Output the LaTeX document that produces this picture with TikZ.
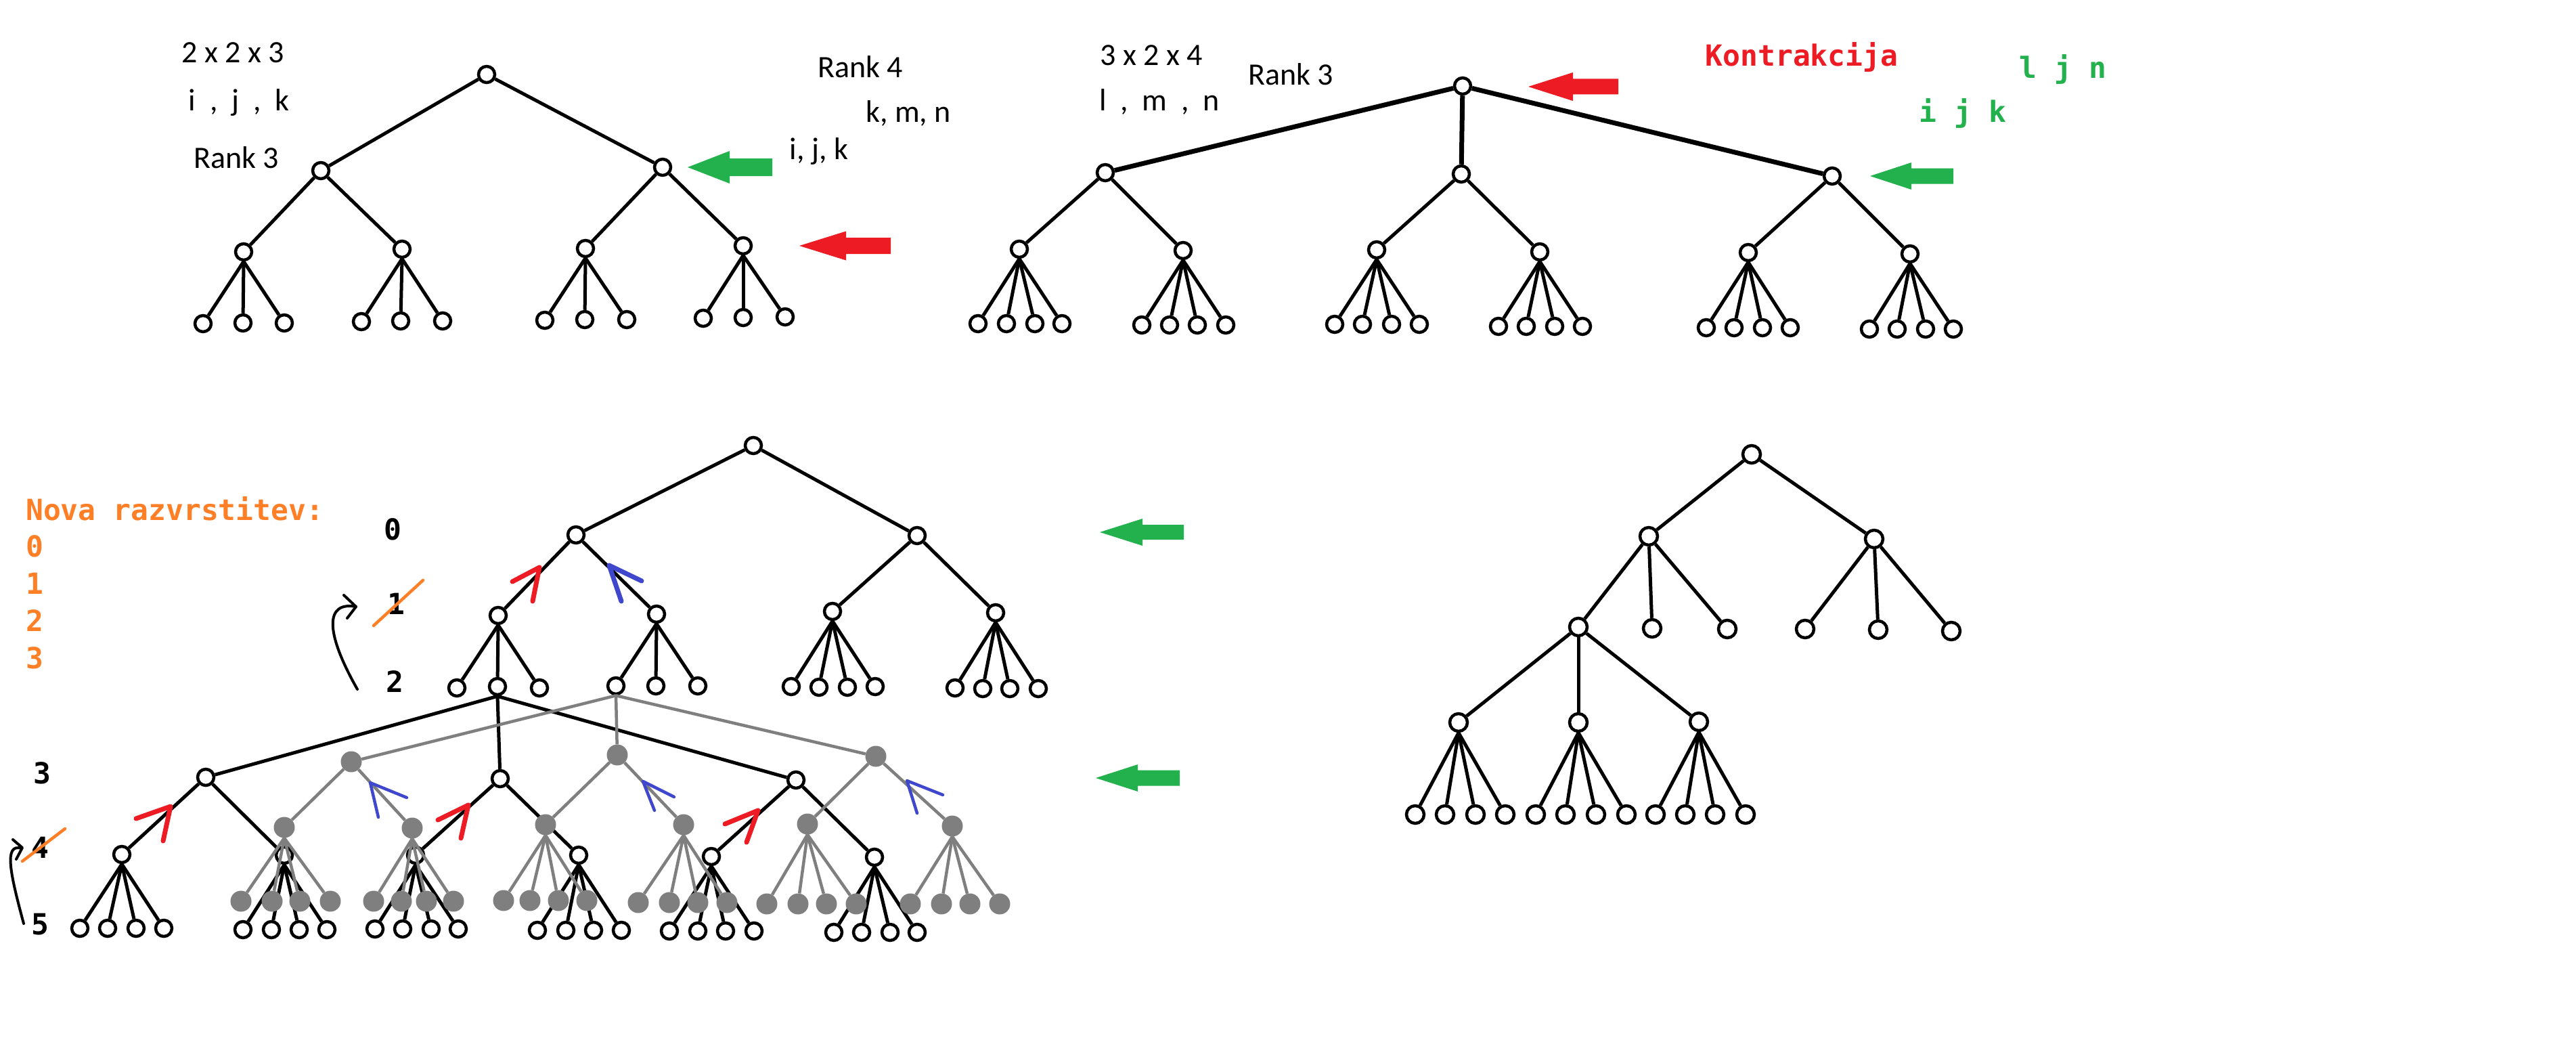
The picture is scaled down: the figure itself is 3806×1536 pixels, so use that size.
\documentclass[tikz,border=0pt]{standalone}
\usepackage{fontspec}
\setmainfont{Carlito}
\newfontfamily\monof{DejaVu Sans Mono}
\definecolor{pRed}{HTML}{ED1C24}
\definecolor{pGreen}{HTML}{22B14C}
\definecolor{pBlue}{HTML}{3F48CC}
\definecolor{pOrange}{HTML}{FF7F27}
\definecolor{pGrey}{HTML}{7F7F7F}
\tikzset{
  vo/.style={circle,draw=black,fill=white,line width=4.5pt,minimum size=24pt,inner sep=0pt},
  vd/.style={vo,minimum size=26pt},
  vg/.style={circle,fill=pGrey,minimum size=31pt,inner sep=0pt},
  edge/.style={line width=5pt,black},
  tedge/.style={line width=7pt,black},
  gedge/.style={line width=4.5pt,pGrey},
  lbl/.style={font=\fontsize{46}{50}\selectfont,inner sep=0pt,anchor=base},
  mlbl/.style={font=\fontsize{43}{48}\selectfont\monof\bfseries,inner sep=0pt,anchor=base},
  chev/.style={line width=7pt,line cap=round,line join=round},
  thinchev/.style={line width=4.5pt,line cap=round,line join=round},
  strike/.style={line width=4.5pt,pOrange,line cap=round},
  curv/.style={line width=4pt,black,line cap=round,line join=round},
}
% color, tipx, tipy, backx, rightx, headhalf, shafthalf
\newcommand\blockarrow[7]{%
  \fill[#1] (#2,#3) -- (#4,{#3-#6}) -- (#4,{#3-#7}) -- (#5,{#3-#7}) -- (#5,{#3+#7})
    -- (#4,{#3+#7}) -- (#4,{#3+#6}) -- cycle;}
\begin{document}
\begin{tikzpicture}[x=1pt,y=-1pt]
\fill[white] (0,0) rectangle (3806,1536);
\useasboundingbox (0,0) rectangle (3806,1536);

%================ Tree A =================
\node[vo] (A0) at (719,110) {};
\node[vo] (A1) at (474,252) {};
\node[vo] (A2) at (979,247) {};
\draw[edge] (A0) -- (A1);
\draw[edge] (A0) -- (A2);
\foreach \p/\c/\x/\y in {A1/A11/360/372, A1/A12/594/368, A2/A21/865/367, A2/A22/1098/363}
  {\node[vo] (\c) at (\x,\y) {}; \draw[edge] (\p) -- (\c);}
\foreach \p/\n/\x/\y in {A11/1/300/478, A11/2/359/477, A11/3/420/477,
                         A12/1/534/475, A12/2/592/474, A12/3/654/474,
                         A21/1/805/473, A21/2/864/472, A21/3/926/472,
                         A22/1/1039/470, A22/2/1098/469, A22/3/1160/468}
  {\node[vo] (\p-\n) at (\x,\y) {}; \draw[edge] (\p.south) -- (\p-\n);}

\node[lbl] (tA1) at (344,93) {2 x 2 x 3};
\node[lbl] (tA2) at (353,163) {i~~,~~j~~,~~k};
\node[lbl] (tA3) at (349,248) {Rank 3};
\node[lbl] (tA4) at (1271,115) {Rank 4};
\node[lbl] (tA5) at (1342,180) {k, m, n};
\node[lbl] (tA6) at (1210,235) {i, j, k};
\blockarrow{pGreen}{1016}{247}{1078}{1141}{24}{13}
\blockarrow{pRed}{1181}{363}{1250}{1316}{21.5}{12}

%================ Tree B =================
\node[vo] (B0) at (2161,127) {};
\foreach \c/\x/\y in {B1/1633/255, B2/2159/257, B3/2707/260}
  {\node[vo] (\c) at (\x,\y) {}; \draw[tedge] (B0) -- (\c);}
\foreach \p/\c/\x/\y in {B1/B11/1506/368, B1/B12/1748/370, B2/B21/2034/369, B2/B22/2275/372,
                         B3/B31/2583/373, B3/B32/2822/375}
  {\node[vo] (\c) at (\x,\y) {}; \draw[edge] (\p) -- (\c);}
\foreach \p/\y/\xa/\xb/\xc/\xd in {B11/478/1445/1487/1529/1569, B12/480/1687/1728/1769/1811,
                                  B21/479/1972/2013/2056/2097, B22/482/2214/2255/2297/2338,
                                  B31/484/2521/2562/2604/2645, B32/486/2762/2803/2845/2886}
  {\foreach \n/\x in {1/\xa, 2/\xb, 3/\xc, 4/\xd}
    {\node[vo] (\p-\n) at (\x,\y) {}; \draw[edge] (\p.south) -- (\p-\n);}}

\node[lbl] (tB1) at (1701,97) {3 x 2 x 4};
\node[lbl] (tB2) at (1713,163) {l~~,~~m~~,~~n};
\node[lbl] (tB3) at (1907,125) {Rank 3};
\node[mlbl,text=pRed] (tB4) at (2662,98) {Kontrakcija};
\node[mlbl,text=pGreen] (tB5) at (3048,116) {l j n};
\node[mlbl,text=pGreen] (tB6) at (2900,180) {i j k};
\blockarrow{pRed}{2258}{128}{2324}{2391}{21}{11.5}
\blockarrow{pGreen}{2763}{260}{2824}{2886}{20}{11.5}

%================ Tree C (upper part) =================
\node[vo] (C0) at (1113,658) {};
\node[vo] (C1) at (851,790) {};
\node[vo] (C2) at (1355,791) {};
\draw[edge] (C0) -- (C1);
\draw[edge] (C0) -- (C2);
\foreach \p/\c/\x/\y in {C1/C11/736/909, C1/C12/970/907, C2/C21/1230/903, C2/C22/1471/905}
  {\node[vo] (\c) at (\x,\y) {}; \draw[edge] (\p) -- (\c);}
\foreach \p/\n/\x/\y in {C11/1/675/1016, C11/2/735/1014, C11/3/797/1016,
                         C12/1/910/1013, C12/2/969/1013, C12/3/1031/1013,
                         C21/1/1169/1014, C21/2/1210/1015, C21/3/1252/1015, C21/4/1293/1014,
                         C22/1/1411/1016, C22/2/1452/1017, C22/3/1492/1017, C22/4/1534/1017}
  {\node[vo] (\p-\n) at (\x,\y) {}; \draw[edge] (\p.south) -- (\p-\n);}

%================ lower black tree =================
\foreach \c/\x/\y in {L1/304/1148, L2/739/1150, L3/1176/1152}
  {\node[vo] (\c) at (\x,\y) {}; \draw[edge] (C11-2.south) -- (\c);}
\foreach \p/\c/\x/\y in {L1/L11/180/1262, L1/L12/420/1263, L2/L21/614/1263, L2/L22/855/1263,
                         L3/L31/1051/1265, L3/L32/1292/1266}
  {\node[vo] (\c) at (\x,\y) {}; \draw[edge] (\p) -- (\c);}
\foreach \p/\y/\xa/\xb/\xc/\xd in {L11/1371/118/159/201/242, L12/1373/359/401/442/483,
                                  L21/1372/554/595/637/677, L22/1374/794/836/877/918,
                                  L31/1375/989/1031/1072/1114, L32/1377/1232/1273/1315/1355}
  {\foreach \n/\x in {1/\xa, 2/\xb, 3/\xc, 4/\xd}
    {\node[vo] (\p-\n) at (\x,\y) {}; \draw[edge] (\p.south) -- (\p-\n);}}

%================ grey tree =================
\foreach \c/\x/\y in {G1/519/1125, G2/912/1115, G3/1294/1117}
  {\node[vg] (\c) at (\x,\y) {}; \draw[gedge] (C12-1.south) -- (\c);}
\foreach \p/\c/\x/\y in {G1/G11/420/1222, G1/G12/609/1223, G2/G21/806/1218, G2/G22/1010/1218,
                         G3/G31/1193/1217, G3/G32/1407/1220}
  {\node[vg] (\c) at (\x,\y) {}; \draw[gedge] (\p) -- (\c);}
\foreach \p/\y/\xa/\xb/\xc/\xd in {G11/1331/356/402/443/488, G12/1331/552/593/630/670,
                                  G21/1330/744/783/825/867, G22/1333/943/989/1031/1074,
                                  G31/1335/1133/1179/1221/1265, G32/1335/1345/1391/1433/1477}
  {\foreach \n/\x in {1/\xa, 2/\xb, 3/\xc, 4/\xd}
    {\node[vg] (\p-\n) at (\x,\y) {}; \draw[gedge] (\p.south) -- (\p-\n);}}

%================ red / blue marks =================
\draw[chev,pRed] (757,859) -- (797,838) -- (787,888);
\draw[chev,pBlue] (948,858) -- (900,835) -- (918,888);
\draw[chev,pRed] (201,1209) -- (252,1191) -- (241,1242);
\draw[chev,pRed] (647,1211) -- (692,1189) -- (681,1238);
\draw[chev,pRed] (1071,1217) -- (1120,1197) -- (1103,1244);
\draw[thinchev,pBlue] (601,1178) -- (547,1156) -- (559,1207);
\draw[thinchev,pBlue] (996,1177) -- (950,1154) -- (967,1197);
\draw[thinchev,pBlue] (1393,1174) -- (1340,1153) -- (1355,1201);

\blockarrow{pGreen}{1625}{786}{1688}{1749}{20}{11}
\blockarrow{pGreen}{1619}{1149}{1681}{1743}{20}{11.5}

%================ left labels =================
\node[mlbl,text=pOrange,anchor=base west] (n0) at (38,768) {Nova razvrstitev:};
\node[mlbl,text=pOrange,anchor=base west] (n1) at (38,822) {0};
\node[mlbl,text=pOrange,anchor=base west] (n2) at (38,877) {1};
\node[mlbl,text=pOrange,anchor=base west] (n3) at (38,932) {2};
\node[mlbl,text=pOrange,anchor=base west] (n4) at (38,987) {3};

\node[mlbl] (k0) at (580,797) {0};
\node[mlbl] (k1) at (585,907) {1};
\node[mlbl] (k2) at (583,1022) {2};
\node[mlbl] (k3) at (62,1157) {3};
\node[mlbl] (k4) at (59,1267) {4};
\node[mlbl] (k5) at (59,1380) {5};
\draw[strike] (552,924) -- (625,857);
\draw[strike] (33,1272) -- (96,1224);

\draw[curv] (528,1018) .. controls (478,930) and (482,888) .. (526,896);
\draw[curv] (508,879) -- (526,896) -- (513,913);
\draw[curv] (35,1364) .. controls (15,1290) and (5,1245) .. (32,1253);
\draw[curv] (19,1240) -- (33,1252) -- (24,1269);

%================ Tree D (bottom right) =================
\node[vd] (D0) at (2588,671) {};
\node[vd] (D1) at (2436,792) {};
\node[vd] (D2) at (2769,796) {};
\draw[edge] (D0) -- (D1);
\draw[edge] (D0) -- (D2);
\foreach \p/\c/\x/\y in {D1/D11/2332/926, D1/D12/2441/928, D1/D13/2552/929,
                         D2/D21/2667/929, D2/D22/2775/930, D2/D23/2883/932}
  {\node[vd] (\c) at (\x,\y) {}; \draw[edge] (\p) -- (\c);}
\foreach \c/\x/\y in {D111/2155/1067, D112/2332/1067, D113/2510/1066}
  {\node[vd] (\c) at (\x,\y) {}; \draw[edge] (D11) -- (\c);}
\foreach \p/\xa/\xb/\xc/\xd in {D111/2091/2135/2180/2224, D112/2269/2313/2358/2403,
                                D113/2446/2490/2534/2579}
  {\foreach \n/\x in {1/\xa, 2/\xb, 3/\xc, 4/\xd}
    {\node[vd] (\p-\n) at (\x,1203) {}; \draw[edge] (\p.south) -- (\p-\n);}}
\end{tikzpicture}
\end{document}
